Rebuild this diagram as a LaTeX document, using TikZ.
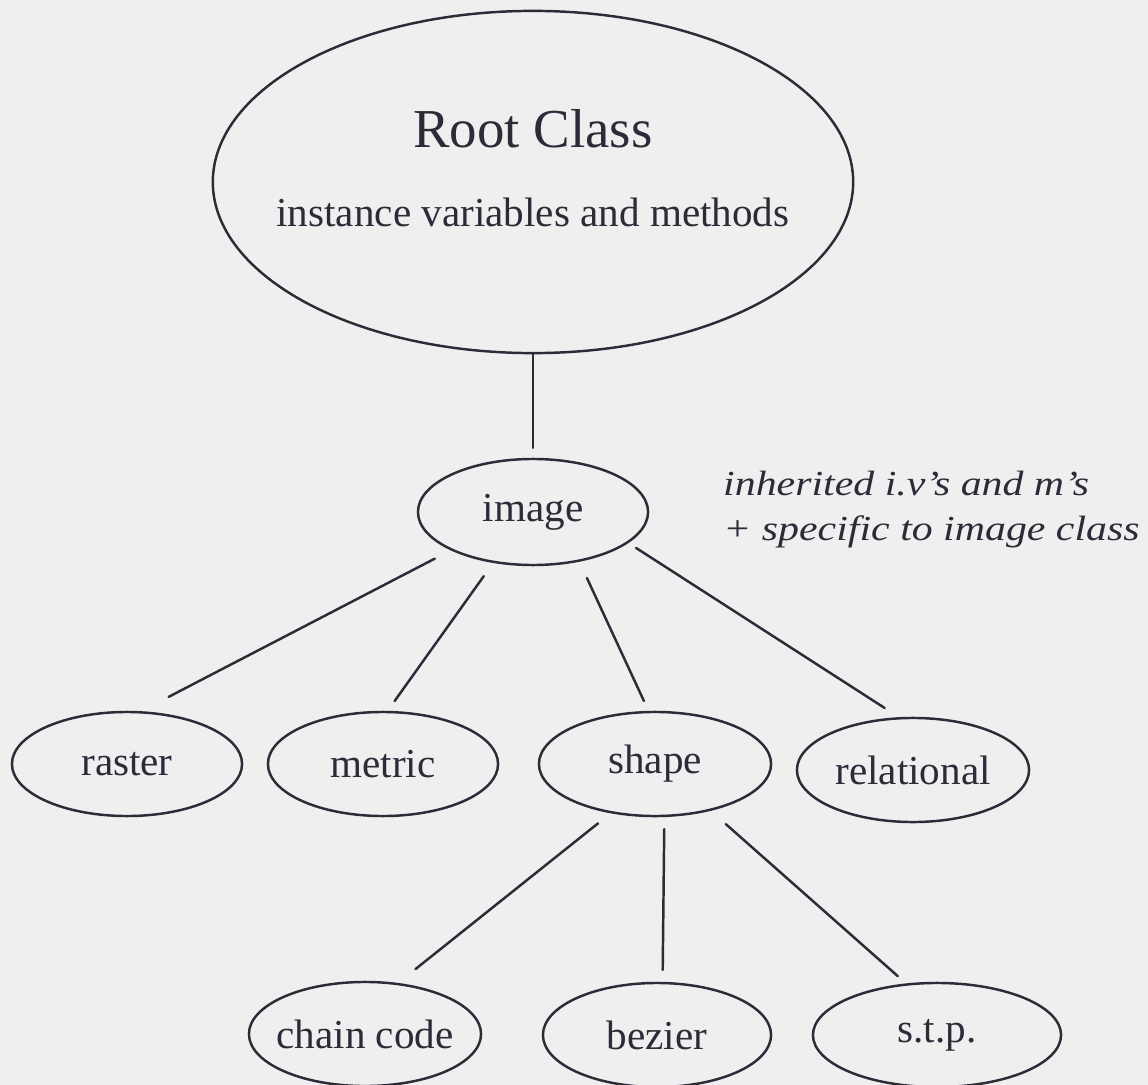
\documentclass[tikz,border=0pt]{standalone}
\usepackage{fontspec}
\setmainfont{Liberation Serif}
\newfontfamily\notefont[FakeStretch=1.19, Ligatures=TeX]{Liberation Serif}
\usetikzlibrary{shapes.geometric}
\definecolor{ink}{HTML}{2E2A38}
\definecolor{paper}{HTML}{F0EFEF}
\tikzset{
  ellipsebox/.style={draw, ellipse, inner sep=0pt, minimum height=1.04cm},
  cls/.style={ellipsebox, label=center:{#1}},
  note/.style={font=\notefont\itshape, anchor=base west, inner sep=0pt},
}
\begin{document}
\begin{tikzpicture}[x=.01cm, y=-.01cm, font=\fontsize{11.7}{13}\selectfont, line join=round, line cap=round, line width=.7pt, ink]
            \def\xma{1148}
            \def\yma{1085}
            \fill[paper] (0,0) rectangle (\xma,\yma);
            \useasboundingbox (0,0) rectangle (\xma,\yma);
            \clip (0,0) rectangle (\xma,\yma);
            % root class
            \node[ellipsebox, minimum width=6.40cm, minimum height=3.42cm] (root) at (533,182) {};
            \node[font=\fontsize{15.6}{18}\selectfont, anchor=base] (rootname) at (533,148) {Root Class};
            \node[anchor=base] (rootiv) at (533,227) {instance variables and methods};
            % image class
            \node[cls=image, minimum width=2.30cm, minimum height=1.06cm] (image) at (533,512) {};
            \node[note] (noteone) at (722,495) {inherited i.v’s and m’s};
            \node[note] (notetwo) at (722,540) {+ specific to image class};
            \foreach \n/\x/\y/\w/\t in {raster/127/764/2.30cm/raster, metric/383/764/2.30cm/metric, shape/655/764/2.32cm/shape, relational/913/770/2.32cm/relational, chain/365/1034/2.32cm/chain code, bezier/657/1035/2.28cm/bezier, stp/937/1035/2.48cm/s.t.p.}{
                \node[cls=\t, minimum width=\w] (\n) at (\x,\y) {};
            }
            \draw[shorten >=2.8pt] (root.south) -- (image.north);
            \foreach \n/\a/\b/\s/\e in {raster/205/75/5.1pt/8.8pt, metric/232/85/4.6pt/3.4pt, shape/-47/97/5.1pt/3.1pt, relational/-18/105/2.6pt/4.8pt}{
                \draw[shorten <=\s, shorten >=\e] (image.\a) -- (\n.\b);
            }
            \foreach \n/\a/\b/\s/\e in {chain/228/57/4.6pt/6.3pt, bezier/-80/84/3.4pt/3.4pt, stp/-40/121/5.7pt/3.1pt}{
                \draw[shorten <=\s, shorten >=\e] (shape.\a) -- (\n.\b);
            }
        \end{tikzpicture}
\end{document}
